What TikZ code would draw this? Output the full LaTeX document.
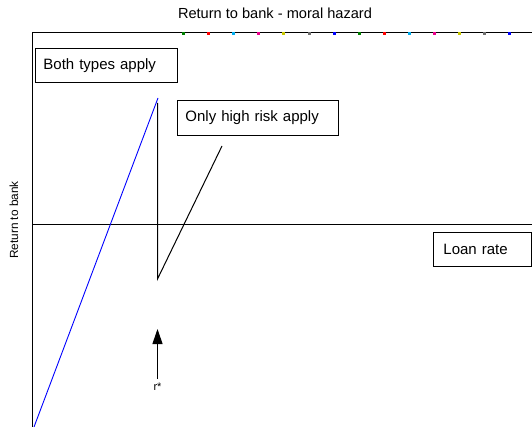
\documentclass[tikz,border=0pt]{standalone}
\usepackage{fontspec}
\setmainfont{Liberation Sans}
\usetikzlibrary{arrows.meta}
\definecolor{dgreen}{RGB}{0,128,0}
\definecolor{dolive}{RGB}{200,200,0}
\definecolor{dgray}{RGB}{110,110,110}
\begin{document}
\begin{tikzpicture}[x=1pt,y=-1pt,
  lbl/.style={draw=black,line width=0.9pt,fill=white,anchor=north west,inner ysep=0pt,inner xsep=8pt,align=left,font=\fontsize{15}{18}\selectfont},
  axis/.style={line width=0.9pt,black},
  dot/.style={inner sep=0pt,minimum size=3pt,fill=#1}]
\useasboundingbox (0,0) rectangle (532,427);
% title
\node[font=\fontsize{14.6}{17}\selectfont] (title) at (275,13) {Return to bank - moral hazard};
% axes
\coordinate (tl) at (32.5,32.5);
\coordinate (tr) at (532,32.5);
\coordinate (bl) at (32.5,427);
\coordinate (ml) at (32.5,224.5);
\coordinate (mr) at (532,224.5);
\draw[axis] (tl) -- (tr);
\draw[axis] (tl) -- (bl);
\draw[axis] (ml) -- (mr);
% coloured markers
\foreach \i/\c in {0/dgreen,1/red,2/cyan,3/magenta,4/dolive,5/dgray,6/blue,7/dgreen,8/red,9/cyan,10/magenta,11/dolive,12/dgray,13/blue}{
  \node[dot=\c] (m\i) at ({183.5+25.1*\i},33.5) {};
}
% y label
\node[rotate=90,font=\fontsize{11.8}{14}\selectfont] (ylab) at (14,220) {Return to bank};
% curves
\coordinate (b0) at (34,427);
\coordinate (b1) at (158,98);
\coordinate (v0) at (157.5,103);
\coordinate (v1) at (157.5,279);
\coordinate (d1) at (222,146);
\draw[blue,line width=0.9pt] (b0) -- (b1);
\draw[line width=1pt] (v0) -- (v1) -- (d1);
% boxes
\node[lbl,minimum width=142pt,minimum height=34pt,text width=126pt] (both) at (35,48) {Both types apply};
\node[lbl,minimum width=161pt,minimum height=35pt,text width=145pt] (high) at (177,100) {Only high risk apply};
\node[lbl,minimum width=94pt,minimum height=34pt,text width=78pt,inner xsep=10pt] (loan) at (433,232) {Loan rate};
% r* arrow
\node[font=\fontsize{11}{13}\selectfont,inner sep=1pt] (rstar) at (157.5,387) {r*};
\coordinate (atip) at (157.5,329);
\draw[line width=1pt,-{Triangle[length=15pt,width=10pt]}] (157.5,379) -- (atip);
\end{tikzpicture}
\end{document}
